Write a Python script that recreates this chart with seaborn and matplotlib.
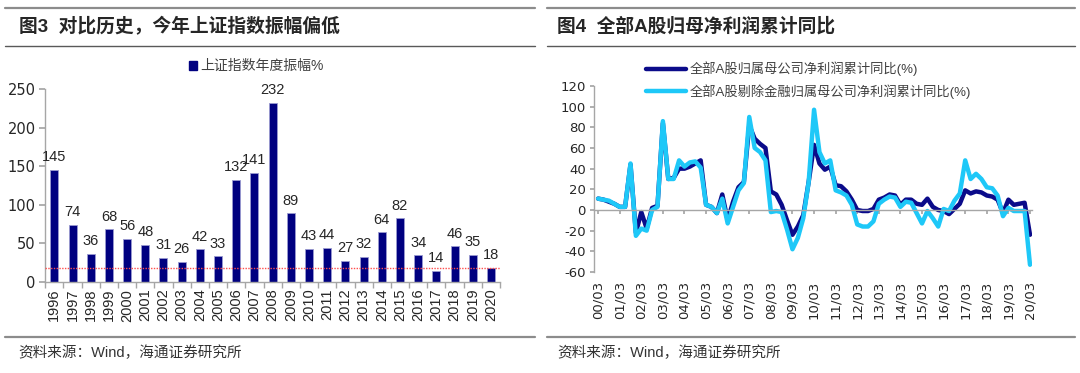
import numpy as np
import pandas as pd
import seaborn as sns
import matplotlib.pyplot as plt
from matplotlib.lines import Line2D
from matplotlib.patches import Patch

# 图3 上证指数年度振幅
years = ['1996', '1997', '1998', '1999', '2000', '2001', '2002', '2003', '2004',
         '2005', '2006', '2007', '2008', '2009', '2010', '2011', '2012', '2013',
         '2014', '2015', '2016', '2017', '2018', '2019', '2020']
amplitude = [145, 74, 36, 68, 56, 48, 31, 26, 42, 33, 132, 141, 232, 89, 43, 44,
             27, 32, 64, 82, 34, 14, 46, 35, 18]

# 图4 全部A股归母净利润累计同比 (季度, 2000Q1 - 2020Q1)
quarter_ticks = ['00/03', '01/03', '02/03', '03/03', '04/03', '05/03', '06/03',
                 '07/03', '08/03', '09/03', '10/03', '11/03', '12/03', '13/03',
                 '14/03', '15/03', '16/03', '17/03', '18/03', '19/03', '20/03']
profit_all = [11, 10, 8, 6, 3, 3, 44, -22, -2, -18, 2, 4,
              84, 30, 31, 40, 40, 42, 45, 48, 5, 3, -3, 15,
              -10, 8, 22, 27, 82, 69, 64, 60, 18, 15, 5, -10,
              -24, -16, -5, 27, 63, 45, 39, 42, 24, 23, 18, 10,
              0, -1, -1, 1, 10, 12, 15, 14, 5, 10, 10, 6,
              5, 11, 3, 0, -1, -4, 1, 6, 19, 16, 18, 17,
              14, 13, 10, -3, 10, 5, 6, 7, -24]
profit_ex_fin = [11, 10, 9, 6, 3, 3, 45, -25, -18, -20, 0, 3,
                 86, 30, 30, 48, 42, 46, 47, 41, 5, 3, -3, 11,
                 -13, 3, 19, 26, 90, 60, 56, 48, -2, -1, -2, -19,
                 -38, -27, -8, 27, 97, 56, 45, 48, 19, 17, 14, 5,
                 -14, -16, -16, -11, 6, 10, 13, 12, 3, 8, 7, -3,
                 -13, -1, -8, -16, 1, -1, 9, 16, 48, 30, 35, 30,
                 22, 21, 14, -6, 2, -1, -1, -1, -53]
name_all = '全部A股归属母公司净利润累计同比(%)'
name_ex = '全部A股剔除金融归属母公司净利润累计同比(%)'

sns.set_theme(style='white')
plt.rcParams['font.family'] = ['Liberation Sans', 'Noto Sans CJK SC']
plt.rcParams['axes.unicode_minus'] = False

navy = '#000080'
dark = '#0B0B8A'
cyan = '#1EC8F8'
grey = '#A6A6A6'

fig = plt.figure(figsize=(10.8, 3.73), dpi=100)

# ---------- 左图 ----------
ax1 = fig.add_axes([0.0419, 0.2448, 0.4211, 0.5166])
df1 = pd.DataFrame({'year': years, 'amp': amplitude})
sns.barplot(data=df1, x='year', y='amp', color=navy, saturation=1, width=0.44,
            edgecolor='#9a9ad0', linewidth=0.6, ax=ax1)
ax1.bar_label(ax1.containers[0], fmt='%d', padding=4, fontsize=10.5)
ax1.axhline(amplitude[-1], color='#ff4d4d', ls=(0, (1, 1)), lw=1, zorder=3)
ax1.set_xlim(-0.5, len(years) - 0.5)
ax1.set_ylim(0, 250)
ax1.set_yticks(np.arange(0, 251, 50))
ax1.set_xlabel('')
ax1.set_ylabel('')
ax1.set_xticks(np.arange(-0.5, len(years), 1), minor=True)
ax1.tick_params(axis='x', which='major', length=0, pad=5, labelsize=10.5,
                labelrotation=90, bottom=True)
ax1.tick_params(axis='x', which='minor', length=4, color=grey, bottom=True)
ax1.tick_params(axis='y', length=4, color=grey, left=True, labelsize=10.5, pad=3)
for lbl in ax1.get_yticklabels():
    lbl.set_fontfamily('DejaVu Sans')
for s in ['top', 'right']:
    ax1.spines[s].set_visible(False)
for s in ['left', 'bottom']:
    ax1.spines[s].set_color(grey)
    ax1.spines[s].set_linewidth(1)
ax1.legend(handles=[Patch(color=navy, label='上证指数年度振幅%')], loc='center',
           bbox_to_anchor=(0.237, 0.823), bbox_transform=fig.transFigure,
           frameon=False, fontsize=10, handlelength=0.6, handleheight=0.6,
           handletextpad=0.2, labelcolor='#404040')

# ---------- 右图 ----------
ax2 = fig.add_axes([0.5503, 0.2708, 0.4049, 0.4987])
q = np.arange(len(profit_all))
df2 = pd.concat([
    pd.DataFrame({'q': q, 'v': profit_all, 's': name_all}),
    pd.DataFrame({'q': q, 'v': profit_ex_fin, 's': name_ex}),
])
sns.lineplot(data=df2, x='q', y='v', hue='s', palette=[dark, cyan], lw=3.2,
             legend=False, ax=ax2)
ax2.set_xlim(-0.7, len(profit_all) - 0.7)
ax2.set_ylim(-60, 120)
ax2.set_yticks(np.arange(-60, 121, 20))
ax2.set_xticks(np.arange(0, len(profit_all), 4))
ax2.set_xticklabels(quarter_ticks)
ax2.set_xlabel('')
ax2.set_ylabel('')
ax2.spines['bottom'].set_position(('data', 0))
for s in ['top', 'right']:
    ax2.spines[s].set_visible(False)
for s in ['left', 'bottom']:
    ax2.spines[s].set_color(grey)
    ax2.spines[s].set_linewidth(1)
ax2.tick_params(axis='x', length=3, color=grey, bottom=True, pad=48,
                labelrotation=90, labelsize=9.5)
ax2.tick_params(axis='y', length=3, color=grey, left=True, labelsize=9.5, pad=3)
for lbl in ax2.get_xticklabels() + ax2.get_yticklabels():
    lbl.set_fontfamily('DejaVu Sans')
ax2.legend(handles=[Line2D([], [], color=dark, lw=3.2, label=name_all),
                    Line2D([], [], color=cyan, lw=3.2, label=name_ex)],
           loc='center left', bbox_to_anchor=(0.592, 0.785),
           bbox_transform=fig.transFigure, frameon=False, fontsize=9.5,
           handlelength=3.0, handletextpad=0.3, labelspacing=0.6,
           borderpad=0, labelcolor='#404040')

# ---------- 标题、来源与分隔线 ----------
title_kw = dict(fontsize=13.5, fontweight='bold', va='center', ha='left',
                family=['Liberation Sans', 'Noto Sans CJK SC'])
fig.text(0.0176, 0.9287, '图3  对比历史，今年上证指数振幅偏低', **title_kw)
fig.text(0.5157, 0.9287, '图4  全部A股归母净利润累计同比', **title_kw)
src_kw = dict(fontsize=10.5, va='center', ha='left', color='#333333')
fig.text(0.0167, 0.0536, '资料来源：Wind，海通证券研究所', **src_kw)
fig.text(0.5157, 0.0536, '资料来源：Wind，海通证券研究所', **src_kw)

for x0, x1 in [(0.0046, 0.4954), (0.5065, 0.9954)]:
    fig.add_artist(Line2D([x0, x1], [0.9796, 0.9796], transform=fig.transFigure,
                          color='#8c8c8c', lw=1.6))
    fig.add_artist(Line2D([x0, x1], [0.8775, 0.8775], transform=fig.transFigure,
                          color='#595959', lw=1.0))
    fig.add_artist(Line2D([x0, x1], [0.0965, 0.0965], transform=fig.transFigure,
                          color='#8c8c8c', lw=1.6))

fig.savefig('out.png', dpi=100)
